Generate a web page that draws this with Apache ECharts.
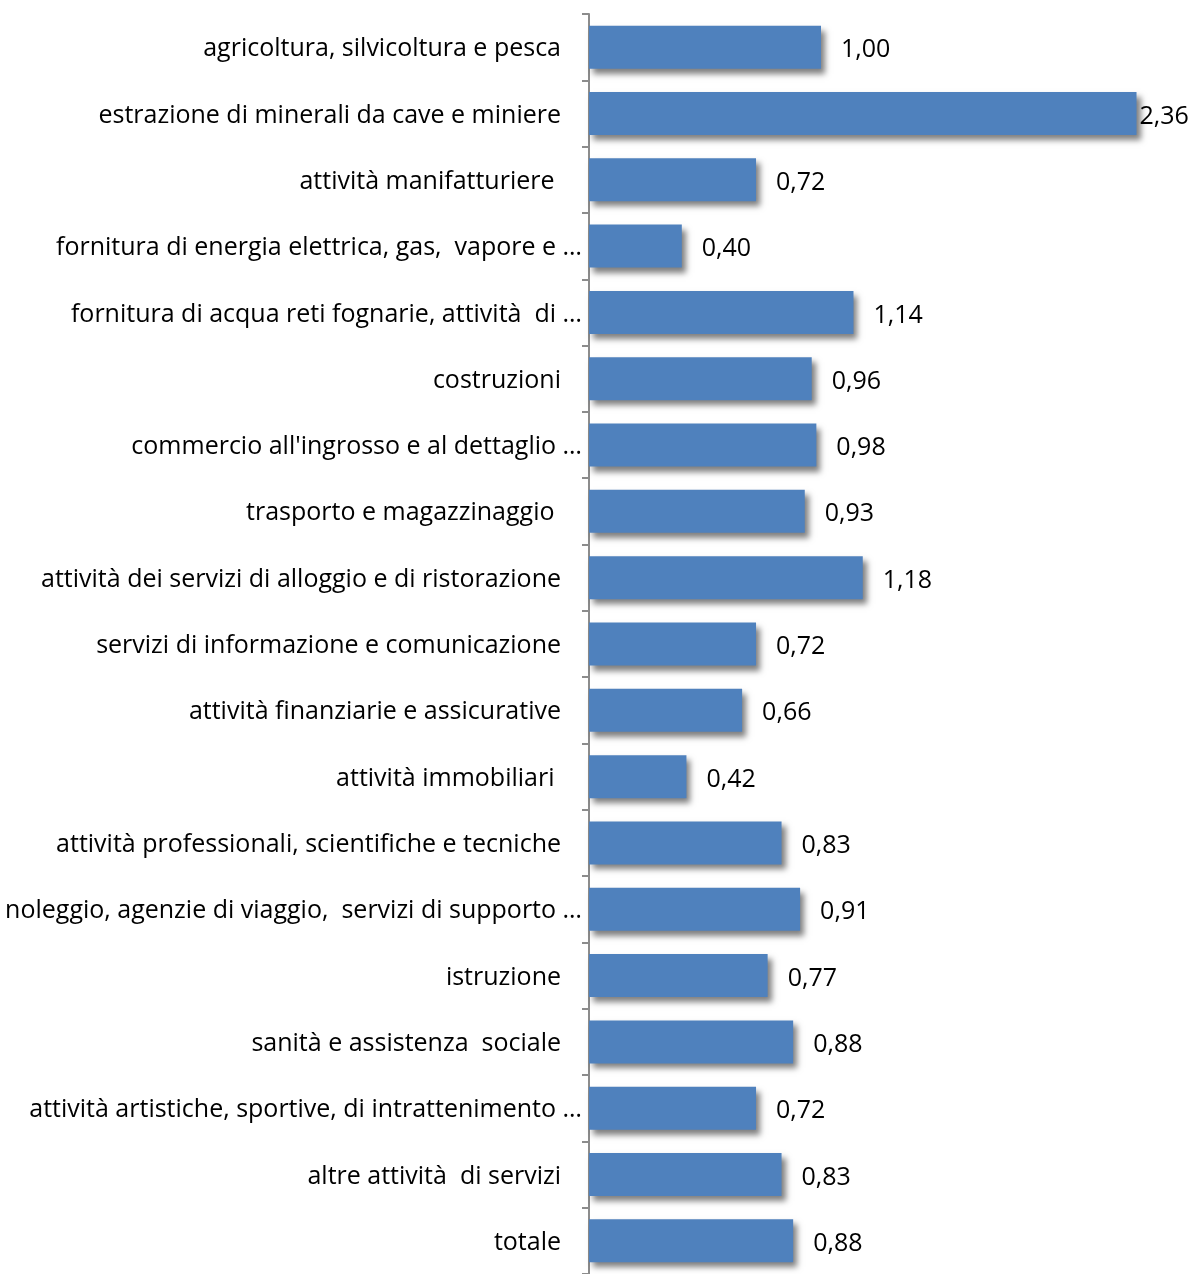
<!DOCTYPE html>
<html>
<head>
<meta charset="utf-8">
<script src="https://cdn.jsdelivr.net/npm/echarts@6/dist/echarts.min.js"></script>
<style>
  html, body { margin: 0; padding: 0; background: #fff; }
  #chart { width: 1191px; height: 1274px; }
</style>
</head>
<body>
<div id="chart"></div>
<script>
// Settori di attività economica (dall'alto verso il basso)
const categories = [
  "agricoltura, silvicoltura e pesca",
  "estrazione di minerali da cave e miniere",
  "attività manifatturiere ",
  "fornitura di energia elettrica, gas,  vapore e …",
  "fornitura di acqua reti fognarie, attività  di …",
  "costruzioni",
  "commercio all'ingrosso e al dettaglio …",
  "trasporto e magazzinaggio ",
  "attività dei servizi di alloggio e di ristorazione",
  "servizi di informazione e comunicazione",
  "attività finanziarie e assicurative",
  "attività immobiliari ",
  "attività professionali, scientifiche e tecniche",
  "noleggio, agenzie di viaggio,  servizi di supporto …",
  "istruzione",
  "sanità e assistenza  sociale",
  "attività artistiche, sportive, di intrattenimento …",
  "altre attività  di servizi",
  "totale"
];

// Indice per settore
const values = [1.00, 2.36, 0.72, 0.40, 1.14, 0.96, 0.98, 0.93, 1.18, 0.72,
                0.66, 0.42, 0.83, 0.91, 0.77, 0.88, 0.72, 0.83, 0.88];

const FONT = "'Open Sans', Lato, sans-serif";
const SIZE = 25;
const fmt = v => v.toFixed(2).replace('.', ',');

// Le etichette vicine al bordo destro restano dentro l'area del grafico
const seriesData = values.map(v => ({
  value: v,
  label: { distance: v > 2 ? 3 : 20 }
}));

const chart = echarts.init(document.getElementById('chart'), null, { renderer: 'canvas' });
chart.setOption({
  animation: false,
  backgroundColor: '#ffffff',
  grid: { left: 589, top: 14, width: 580, height: 1265.4, containLabel: false },
  xAxis: {
    type: 'value',
    min: 0,
    max: 2.5,
    show: false
  },
  yAxis: {
    type: 'category',
    inverse: true,
    data: categories,
    axisLine: { show: true, lineStyle: { color: '#8c8c8c', width: 2 } },
    axisTick: { show: true, alignWithLabel: false, length: 7, lineStyle: { color: '#8c8c8c', width: 2 } },
    axisLabel: {
      margin: 7,
      color: '#000',
      fontFamily: FONT,
      fontSize: SIZE,
      formatter: v => v.endsWith('…') ? '{e|' + v + '}' : '{n|' + v + '}',
      rich: {
        n: { fontFamily: FONT, fontSize: SIZE, color: '#000', padding: [4, 21, 0, 0] },
        e: { fontFamily: FONT, fontSize: SIZE, color: '#000', padding: [4, 0, 0, 0] }
      }
    }
  },
  series: [{
    type: 'bar',
    data: seriesData,
    barWidth: 43,
    itemStyle: {
      color: '#4f81bd',
      shadowColor: 'rgba(0,0,0,0.5)',
      shadowBlur: 6,
      shadowOffsetX: 4,
      shadowOffsetY: 5
    },
    label: {
      show: true,
      position: 'right',
      color: '#000',
      fontFamily: FONT,
      fontSize: SIZE,
      offset: [0, 3],
      formatter: p => fmt(p.value)
    }
  }]
});
</script>
</body>
</html>
